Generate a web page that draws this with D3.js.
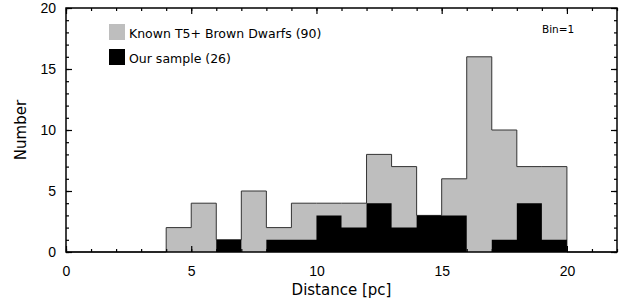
<!DOCTYPE html>
<html>
<head>
<meta charset="utf-8">
<script src="https://cdn.jsdelivr.net/npm/d3@7"></script>
<style>
  html, body { margin: 0; padding: 0; background: #fff; }
  svg { display: block; font-family: "DejaVu Sans", sans-serif; }
</style>
</head>
<body>
<div id="chart"></div>
<script>
// Histogram data, bin = 1 pc (left edge of each bin)
const binStarts = d3.range(0, 22);
const knownCounts = [0, 0, 0, 0, 2, 4, 1, 5, 2, 4, 4, 4, 8, 7, 3, 6, 16, 10, 7, 7, 0, 0];
const sampleCounts = [0, 0, 0, 0, 0, 0, 1, 0, 1, 1, 3, 2, 4, 2, 3, 3, 0, 1, 4, 1, 0, 0];
const xTicks = [0, 5, 10, 15, 20];
const yTicks = [0, 5, 10, 15, 20];
const legendItems = [
    { label: 'Known T5+ Brown Dwarfs (90)', color: '#bebebe' },
    { label: 'Our sample (26)', color: '#000' }
];

const width = 623, height = 304;
const margin = { top: 8, right: 6, bottom: 52, left: 66 };

const svg = d3.select('#chart').append('svg')
    .attr('width', width)
    .attr('height', height);

const x = d3.scaleLinear().domain([0, 22]).range([margin.left, width - margin.right]);
const y = d3.scaleLinear().domain([0, 20]).range([height - margin.bottom, margin.top]);

// Puntos escalonados: [inicio del bin, cuenta], cerrando en x=22
function stepPoints(counts) {
    const pts = binStarts.map((d, i) => [d, counts[i]]);
    pts.push([22, 0]);
    return pts;
}

const stepArea = d3.area()
    .x(d => x(d[0]))
    .y0(y(0))
    .y1(d => y(d[1]))
    .curve(d3.curveStepAfter);

const stepLine = d3.line()
    .x(d => x(d[0]))
    .y(d => y(d[1]))
    .curve(d3.curveStepAfter);

// Histograma gris (muestra conocida)
svg.append('path')
    .datum(stepPoints(knownCounts))
    .attr('fill', legendItems[0].color)
    .attr('d', stepArea);

svg.append('path')
    .datum(stepPoints(knownCounts))
    .attr('fill', 'none')
    .attr('stroke', '#333')
    .attr('stroke-width', 1)
    .attr('d', stepLine);

// Histograma negro (nuestra muestra)
svg.append('path')
    .datum(stepPoints(sampleCounts))
    .attr('fill', legendItems[1].color)
    .attr('d', stepArea);

// Ejes con ticks hacia dentro (estilo IDL)
const majorLen = 6, minorLen = 3;
const xMinor = d3.range(0, 23);
const yMinor = d3.range(0, 21);

svg.append('g')
    .attr('transform', `translate(0,${y(0)})`)
    .call(d3.axisBottom(x).tickValues(xMinor).tickSize(-minorLen).tickFormat(''))
    .call(g => g.select('.domain').remove());
svg.append('g')
    .attr('transform', `translate(0,${y(0)})`)
    .call(d3.axisBottom(x).tickValues(xTicks).tickSize(-majorLen).tickPadding(14).tickFormat(d3.format('d')))
    .call(g => g.select('.domain').remove())
    .call(g => g.selectAll('text').attr('font-size', 14).attr('fill', '#000'));

svg.append('g')
    .attr('transform', `translate(0,${y(20)})`)
    .call(d3.axisTop(x).tickValues(xMinor).tickSize(-minorLen).tickFormat(''))
    .call(g => g.select('.domain').remove());
svg.append('g')
    .attr('transform', `translate(0,${y(20)})`)
    .call(d3.axisTop(x).tickValues(xTicks).tickSize(-majorLen).tickFormat(''))
    .call(g => g.select('.domain').remove());

svg.append('g')
    .attr('transform', `translate(${x(0)},0)`)
    .call(d3.axisLeft(y).tickValues(yMinor).tickSize(-minorLen).tickFormat(''))
    .call(g => g.select('.domain').remove());
svg.append('g')
    .attr('transform', `translate(${x(0)},0)`)
    .call(d3.axisLeft(y).tickValues(yTicks).tickSize(-majorLen).tickPadding(10).tickFormat(d3.format('d')))
    .call(g => g.select('.domain').remove())
    .call(g => g.selectAll('text').attr('font-size', 14).attr('fill', '#000'));

svg.append('g')
    .attr('transform', `translate(${x(22)},0)`)
    .call(d3.axisRight(y).tickValues(yMinor).tickSize(-minorLen).tickFormat(''))
    .call(g => g.select('.domain').remove());
svg.append('g')
    .attr('transform', `translate(${x(22)},0)`)
    .call(d3.axisRight(y).tickValues(yTicks).tickSize(-majorLen).tickFormat(''))
    .call(g => g.select('.domain').remove());

svg.selectAll('.tick line').attr('stroke', '#000').attr('stroke-width', 1.2);

// Marco
svg.append('rect')
    .attr('x', x(0))
    .attr('y', y(20))
    .attr('width', x(22) - x(0))
    .attr('height', y(0) - y(20))
    .attr('fill', 'none')
    .attr('stroke', '#000')
    .attr('stroke-width', 1.5);

// Títulos de ejes
svg.append('text')
    .attr('x', (x(0) + x(22)) / 2)
    .attr('y', 295)
    .attr('text-anchor', 'middle')
    .attr('font-size', 15)
    .text('Distance [pc]');

svg.append('text')
    .attr('transform', `translate(26,${(y(0) + y(20)) / 2}) rotate(-90)`)
    .attr('text-anchor', 'middle')
    .attr('font-size', 15)
    .text('Number');

// Leyenda
const legend = svg.append('g');
legendItems.forEach((item, i) => {
    const ly = 24 + i * 25;
    legend.append('rect')
        .attr('x', 109).attr('y', ly)
        .attr('width', 16).attr('height', 16)
        .attr('fill', item.color);
    legend.append('text')
        .attr('x', 129).attr('y', ly + 14)
        .attr('font-size', 12.5)
        .text(item.label);
});

svg.append('text')
    .attr('x', 542).attr('y', 33)
    .attr('font-size', 10.5)
    .text('Bin=1');
</script>
</body>
</html>
